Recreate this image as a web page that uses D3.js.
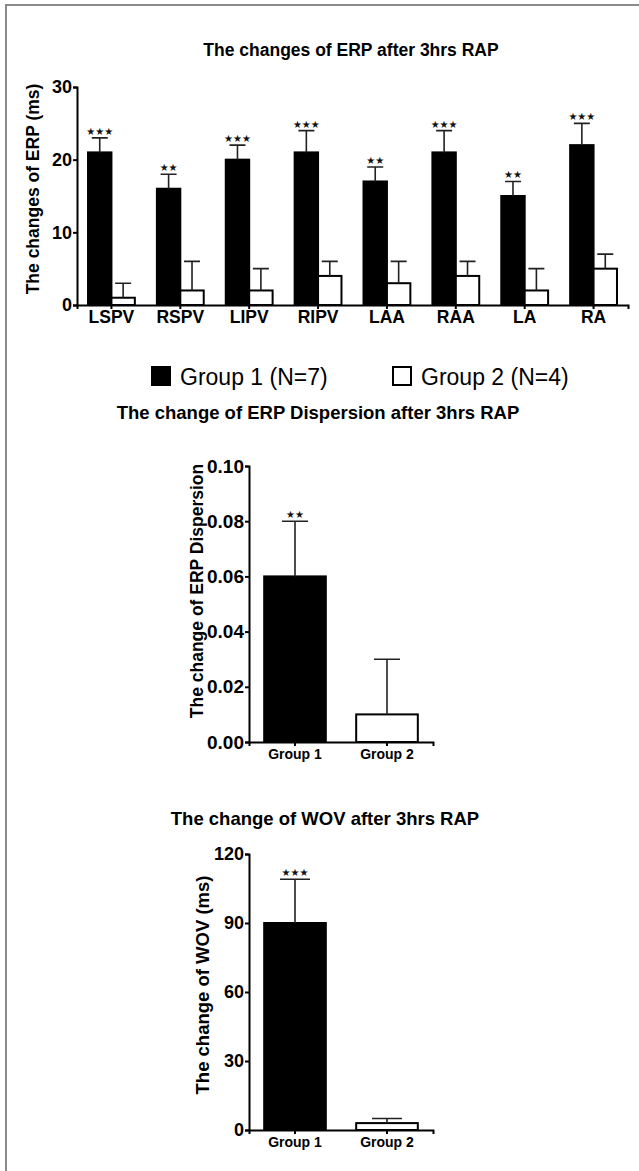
<!DOCTYPE html>
<html lang="en">
<head>
<meta charset="UTF-8">
<title>ERP changes</title>
<script src="https://cdn.jsdelivr.net/npm/d3@7"></script>
<style>
    body{ margin:0; background:#fff; }
    svg{ display:block; font-family:"Liberation Sans", Arial, sans-serif; }
</style>
</head>
<body>
<script type="text/javascript">

    // ---- data ----
    const erpSites = ["LSPV", "RSPV", "LIPV", "RIPV", "LAA", "RAA", "LA", "RA"];
    const erpGroup1 = [21, 16, 20, 21, 17, 21, 15, 22];
    const erpGroup1Err = [2, 2, 2, 3, 2, 3, 2, 3];
    const erpGroup2 = [1, 2, 2, 4, 3, 4, 2, 5];
    const erpGroup2Err = [2, 4, 3, 2, 3, 2, 3, 2];
    const erpStars = ["***", "**", "***", "***", "**", "***", "**", "***"];
    const erpTicks = [0, 10, 20, 30];

    const groupNames = ["Group 1", "Group 2"];
    const legendLabels = ["Group 1 (N=7)", "Group 2 (N=4)"];

    const dispValues = [0.06, 0.01];
    const dispErr = [0.02, 0.02];
    const dispStars = ["**", ""];
    const dispTicks = [0, 0.02, 0.04, 0.06, 0.08, 0.10];

    const wovValues = [90, 3];
    const wovErr = [19, 2];
    const wovStars = ["***", ""];
    const wovTicks = [0, 30, 60, 90, 120];

    const fills = ["#000", "#fff"];

    let width = 639, height = 1171;
    let svg = d3.select("body").append("svg")
        .attr("width", width)
        .attr("height", height);

    // frame (top + left edge only, like the scan)
    svg.append("path")
        .attr("d", `M6,${height} L6,5 L${width},5`)
        .attr("fill", "none")
        .attr("stroke", "#8a8a8a")
        .attr("stroke-width", 2);

    // draws y axis with outward ticks, bold labels
    let drawYAxis = (g, y, x0, ticks, fmt, fontSize) => {
        let ax = d3.axisLeft(y).tickValues(ticks).tickFormat(fmt).tickSize(4).tickPadding(1);
        let ag = g.append("g").attr("transform", `translate(${x0},0)`).call(ax);
        ag.select(".domain").attr("stroke", "#000").attr("stroke-width", 2);
        ag.selectAll(".tick line").attr("stroke", "#000").attr("stroke-width", 2);
        ag.selectAll(".tick text")
            .attr("font-size", fontSize)
            .attr("font-weight", "bold")
            .attr("font-family", "Liberation Sans, Arial, sans-serif")
            .attr("fill", "#000");
    };

    let drawXAxis = (g, x, y0, fontSize, pad) => {
        let ax = d3.axisBottom(x).tickSizeOuter(0).tickSize(4).tickPadding(pad);
        let ag = g.append("g").attr("transform", `translate(0,${y0})`).call(ax);
        ag.select(".domain").attr("stroke", "#000").attr("stroke-width", 2);
        ag.selectAll(".tick line").attr("stroke", "#000").attr("stroke-width", 2);
        ag.selectAll(".tick text")
            .attr("font-size", fontSize)
            .attr("font-weight", "bold")
            .attr("font-family", "Liberation Sans, Arial, sans-serif")
            .attr("fill", "#000");
    };

    let drawTitle = (text, cx, baseY, size) => {
        svg.append("text")
            .attr("x", cx).attr("y", baseY)
            .attr("text-anchor", "middle")
            .attr("font-size", size)
            .attr("font-weight", "bold")
            .text(text);
    };

    let drawYLabel = (text, cx, cy, size) => {
        svg.append("text")
            .attr("transform", `translate(${cx},${cy}) rotate(-90)`)
            .attr("text-anchor", "middle")
            .attr("dominant-baseline", "central")
            .attr("font-size", size)
            .attr("font-weight", "bold")
            .text(text);
    };

    // bars + upper error bars + significance stars
    let drawBars = (g, rows, y, capW) => {
        g.selectAll("rect.bar").data(rows).enter()
            .append("rect")
            .attr("class", "bar")
            .attr("x", d => d.x)
            .attr("width", d => d.w)
            .attr("y", d => y(d.value))
            .attr("height", d => y(0) - y(d.value))
            .attr("fill", d => d.fill)
            .attr("stroke", "#000")
            .attr("stroke-width", 2);

        g.selectAll("path.err").data(rows).enter()
            .append("path")
            .attr("class", "err")
            .attr("d", d => {
                let cx = d.x + d.w / 2, top = y(d.value + d.err);
                return `M${cx},${y(d.value)} L${cx},${top} M${cx - capW / 2},${top} L${cx + capW / 2},${top}`;
            })
            .attr("fill", "none")
            .attr("stroke", "#222")
            .attr("stroke-width", 1.6);

        g.selectAll("text.star").data(rows.filter(d => d.star)).enter()
            .append("text")
            .attr("class", "star")
            .attr("x", d => d.x + d.w / 2)
            .attr("y", d => y(d.value + d.err) - 3)
            .attr("text-anchor", "middle")
            .attr("font-size", 10)
            .attr("font-family", "DejaVu Sans, sans-serif")
            .attr("fill", "#111")
            .text(d => d.star.replace(/\*/g, "\u2605"));
    };

    // ---------- chart 1: ERP by site ----------
    let g1 = svg.append("g");
    let x0 = d3.scaleBand().domain(erpSites).range([77, 628]).paddingInner(0.32).paddingOuter(0.16);
    let x1 = d3.scaleBand().domain([0, 1]).range([0, x0.bandwidth()]);
    let y1 = d3.scaleLinear().domain([0, 30]).range([305, 87]);

    let rows1 = [];
    erpSites.forEach((s, i) => {
        rows1.push({ x: x0(s) + x1(0), w: x1.bandwidth(), value: erpGroup1[i], err: erpGroup1Err[i], fill: fills[0], star: erpStars[i] });
        rows1.push({ x: x0(s) + x1(1), w: x1.bandwidth(), value: erpGroup2[i], err: erpGroup2Err[i], fill: fills[1], star: "" });
    });
    drawBars(g1, rows1, y1, 16);
    drawYAxis(g1, y1, 77, erpTicks, d3.format("d"), 18);
    drawXAxis(g1, x0, 305, 17.5, 2);
    drawTitle("The changes of ERP after 3hrs RAP", 351, 56, 17.5);
    drawYLabel("The changes of ERP (ms)", 33, 189, 17.5);

    // legend
    let leg = svg.append("g");
    let legX = [152, 393];
    legendLabels.forEach((t, i) => {
        leg.append("rect")
            .attr("x", legX[i]).attr("y", 367)
            .attr("width", 18).attr("height", 18)
            .attr("fill", fills[i])
            .attr("stroke", "#000").attr("stroke-width", 2);
        leg.append("text")
            .attr("x", legX[i] + 28).attr("y", 385)
            .attr("font-size", 23)
            .text(t);
    });

    // ---------- chart 2: ERP dispersion ----------
    let g2 = svg.append("g");
    let xg = d3.scaleBand().domain(groupNames).range([249, 433]).paddingInner(0.33).paddingOuter(0.165);
    let y2 = d3.scaleLinear().domain([0, 0.10]).range([742, 466]);
    let rows2 = groupNames.map((n, i) => ({ x: xg(n), w: xg.bandwidth(), value: dispValues[i], err: dispErr[i], fill: fills[i], star: dispStars[i] }));
    drawBars(g2, rows2, y2, 26);
    drawYAxis(g2, y2, 249, dispTicks, d3.format(".2f"), 19);
    drawXAxis(g2, xg, 742, 14, 3);
    drawTitle("The change of ERP Dispersion after 3hrs RAP", 318, 419, 18.5);
    drawYLabel("The change of ERP Dispersion", 197, 591, 17.5);

    // ---------- chart 3: WOV ----------
    let g3 = svg.append("g");
    let y3 = d3.scaleLinear().domain([0, 120]).range([1130, 854]);
    let rows3 = groupNames.map((n, i) => ({ x: xg(n), w: xg.bandwidth(), value: wovValues[i], err: wovErr[i], fill: fills[i], star: wovStars[i] }));
    drawBars(g3, rows3, y3, 30);
    drawYAxis(g3, y3, 249, wovTicks, d3.format("d"), 18);
    drawXAxis(g3, xg, 1130, 14, 3);
    drawTitle("The change of WOV after 3hrs RAP", 325, 825, 18.5);
    drawYLabel("The change of WOV (ms)", 202, 985, 18.5);

</script>
</body>
</html>
